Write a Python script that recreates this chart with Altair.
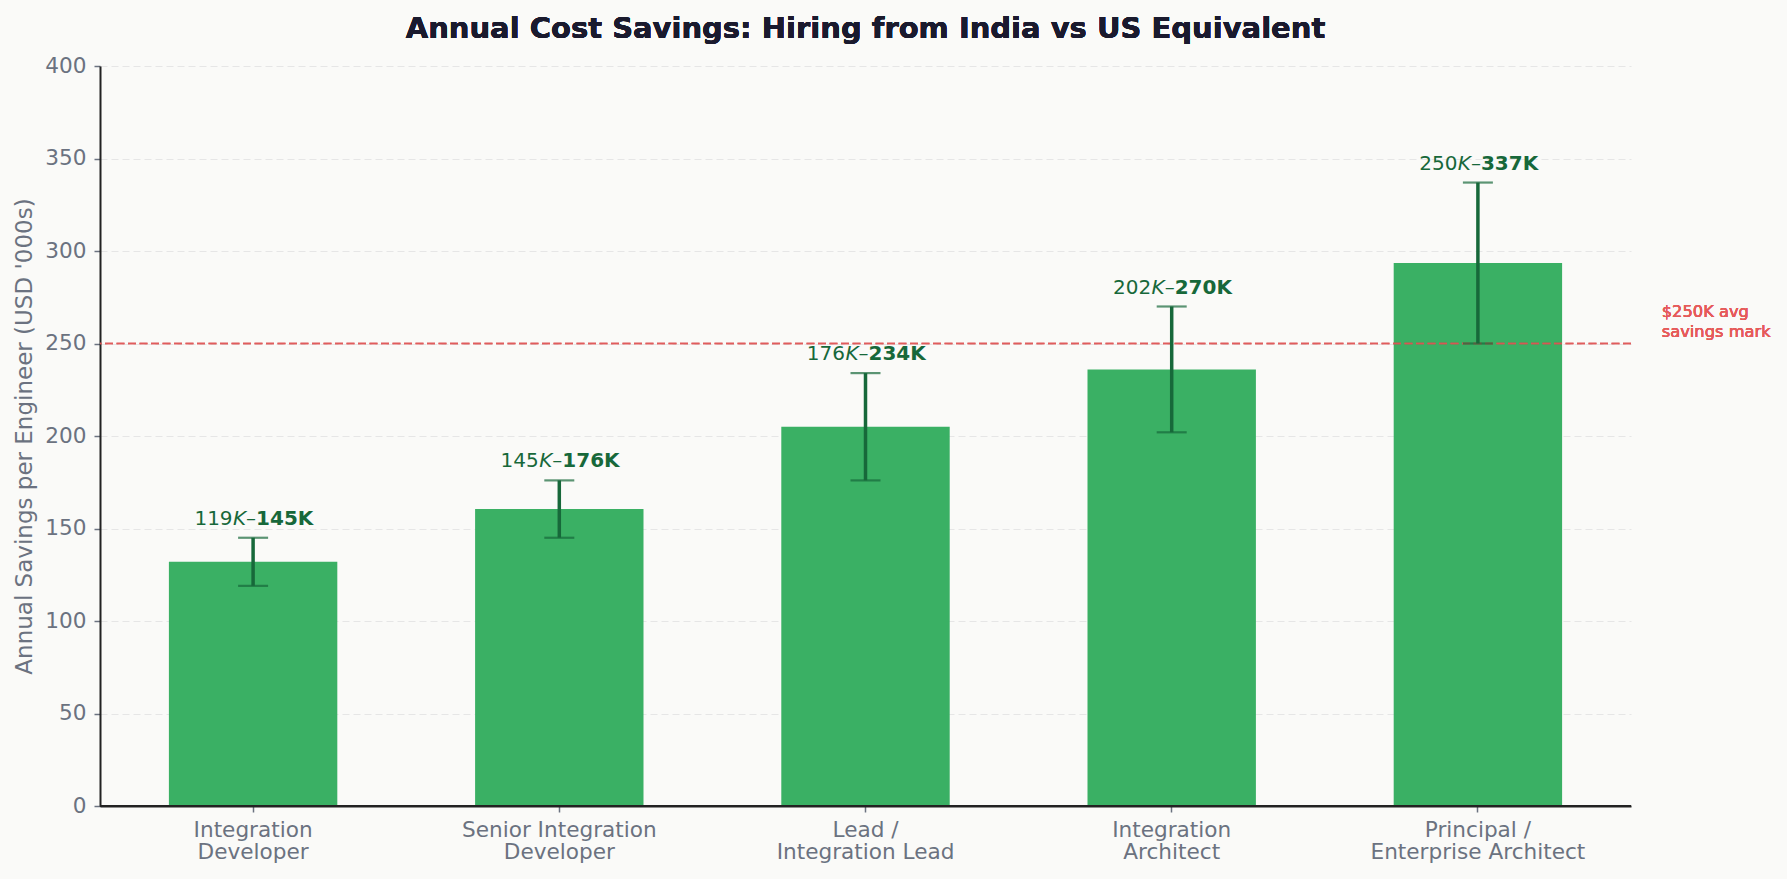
import altair as alt
import pandas as pd

# Roles (two-line axis labels) and the annual savings range per engineer, USD '000s
roles = [
    "Integration\nDeveloper",
    "Senior Integration\nDeveloper",
    "Lead /\nIntegration Lead",
    "Integration\nArchitect",
    "Principal /\nEnterprise Architect",
]
savings_low = [119, 145, 176, 202, 250]
savings_high = [145, 176, 234, 270, 337]
savings_mid = [132, 160.5, 205, 236, 293.5]
y_ticks = [0, 50, 100, 150, 200, 250, 300, 350, 400]
avg_mark = 250

df = pd.DataFrame({
    "role": roles,
    "low": savings_low,
    "high": savings_high,
    "mid": savings_mid,
})
df["low_txt"] = df["low"].astype(str)
df["high_txt"] = df["high"].astype(str) + "K"

W, H = 1531, 740
BAR = "#3AB064"
DARK = "#17683A"
GRAY = "#6B7280"
FONT = "DejaVu Sans"

x_enc = alt.X(
    "role:N",
    sort=None,
    scale=alt.Scale(paddingInner=0.45, paddingOuter=0.225),
    axis=alt.Axis(
        title=None,
        labelAngle=0,
        labelExpr="split(datum.label, '\\n')",
        labelLimit=0,
        labelFontSize=21.6,
        labelLineHeight=22,
        labelColor=GRAY,
        labelPadding=7,
        tickSize=6,
        tickWidth=1.5,
        tickColor=GRAY,
        domainColor="#222222",
        domainWidth=2,
        grid=False,
    ),
)
y_scale = alt.Scale(domain=[0, 400], nice=False)

base = alt.Chart(df)

bars = base.mark_bar(color=BAR).encode(
    x=x_enc,
    y=alt.Y(
        "mid:Q",
        scale=y_scale,
        axis=alt.Axis(
            title="Annual Savings per Engineer (USD '000s)",
            titleFontSize=23,
            titleFontWeight="normal",
            titleColor=GRAY,
            titlePadding=8,
            values=y_ticks,
            labelFontSize=21.6,
            labelColor=GRAY,
            labelPadding=8,
            tickSize=6,
            tickWidth=1.5,
            tickColor=GRAY,
            domainColor="#222222",
            domainWidth=2,
            grid=True,
            gridColor="#E6E6E6",
            gridDash=[7, 4],
            gridWidth=1.2,
        ),
    ),
)

avg_rule = alt.Chart(df).mark_rule(
    color="#E05555", opacity=0.45, strokeWidth=1.6, strokeDash=[8, 3.5]
).encode(y=alt.datum(avg_mark, scale=y_scale))

baseline = alt.Chart(df).mark_rule(color="#222222", strokeWidth=2).encode(
    y=alt.datum(0, scale=y_scale)
)

err = base.mark_rule(color=DARK, strokeWidth=3.5).encode(
    x=alt.X("role:N", sort=None),
    y=alt.Y("low:Q", scale=y_scale),
    y2="high:Q",
)
cap_lo = base.mark_tick(color=DARK, size=30, thickness=2.2, orient="horizontal").encode(
    x=alt.X("role:N", sort=None), y=alt.Y("low:Q", scale=y_scale)
)
cap_hi = base.mark_tick(color=DARK, size=30, thickness=2.2, orient="horizontal").encode(
    x=alt.X("role:N", sort=None), y=alt.Y("high:Q", scale=y_scale)
)

# Range label "lowK–highK": regular digits, italic K, dash, bold upper bound
lab_kw = dict(baseline="alphabetic", dy=-13, fontSize=20, color=DARK, font=FONT)
pos = dict(x=alt.X("role:N", sort=None), y=alt.Y("high:Q", scale=y_scale))
lab_hi = base.mark_text(align="left", dx=3, fontWeight="bold", **lab_kw).encode(
    text="high_txt:N", **pos
)
lab_dash = base.mark_text(align="right", dx=3, **lab_kw).encode(
    text=alt.value("–"), **pos
)
lab_k = base.mark_text(align="right", dx=-7, fontStyle="italic", **lab_kw).encode(
    text=alt.value("K"), **pos
)
lab_lo = base.mark_text(align="right", dx=-20.5, **lab_kw).encode(
    text="low_txt:N", **pos
)

avg_note = alt.Chart(df).mark_text(
    align="left", baseline="alphabetic", dy=-26.8, fontSize=16.3,
    lineHeight=20.6, lineBreak="\n", color="#E65A5A", font=FONT,
).encode(
    x=alt.value(W + 30.7),
    y=alt.datum(avg_mark, scale=y_scale),
    text=alt.value("$250K avg\nsavings mark"),
)

title = alt.Chart(df).mark_text(
    align="center", baseline="alphabetic", fontSize=29, fontWeight="bold",
    color="#1A1A2E", font=FONT,
).encode(
    x=alt.value(W / 2),
    y=alt.value(-28),
    text=alt.value("Annual Cost Savings: Hiring from India vs US Equivalent"),
)

chart = (
    alt.layer(
        bars, avg_rule, baseline, err, cap_lo, cap_hi,
        lab_lo, lab_k, lab_dash, lab_hi, avg_note, title,
    )
    .properties(
        width=W,
        height=H,
        autosize=alt.AutoSizeParams(type="none"),
        padding={"left": 100, "top": 66, "right": 156, "bottom": 73},
        background="#FAFAF8",
    )
    .configure(font=FONT)
    .configure_view(strokeWidth=0)
)

chart.save("out.html", embed_options={"renderer": "svg", "actions": False})
